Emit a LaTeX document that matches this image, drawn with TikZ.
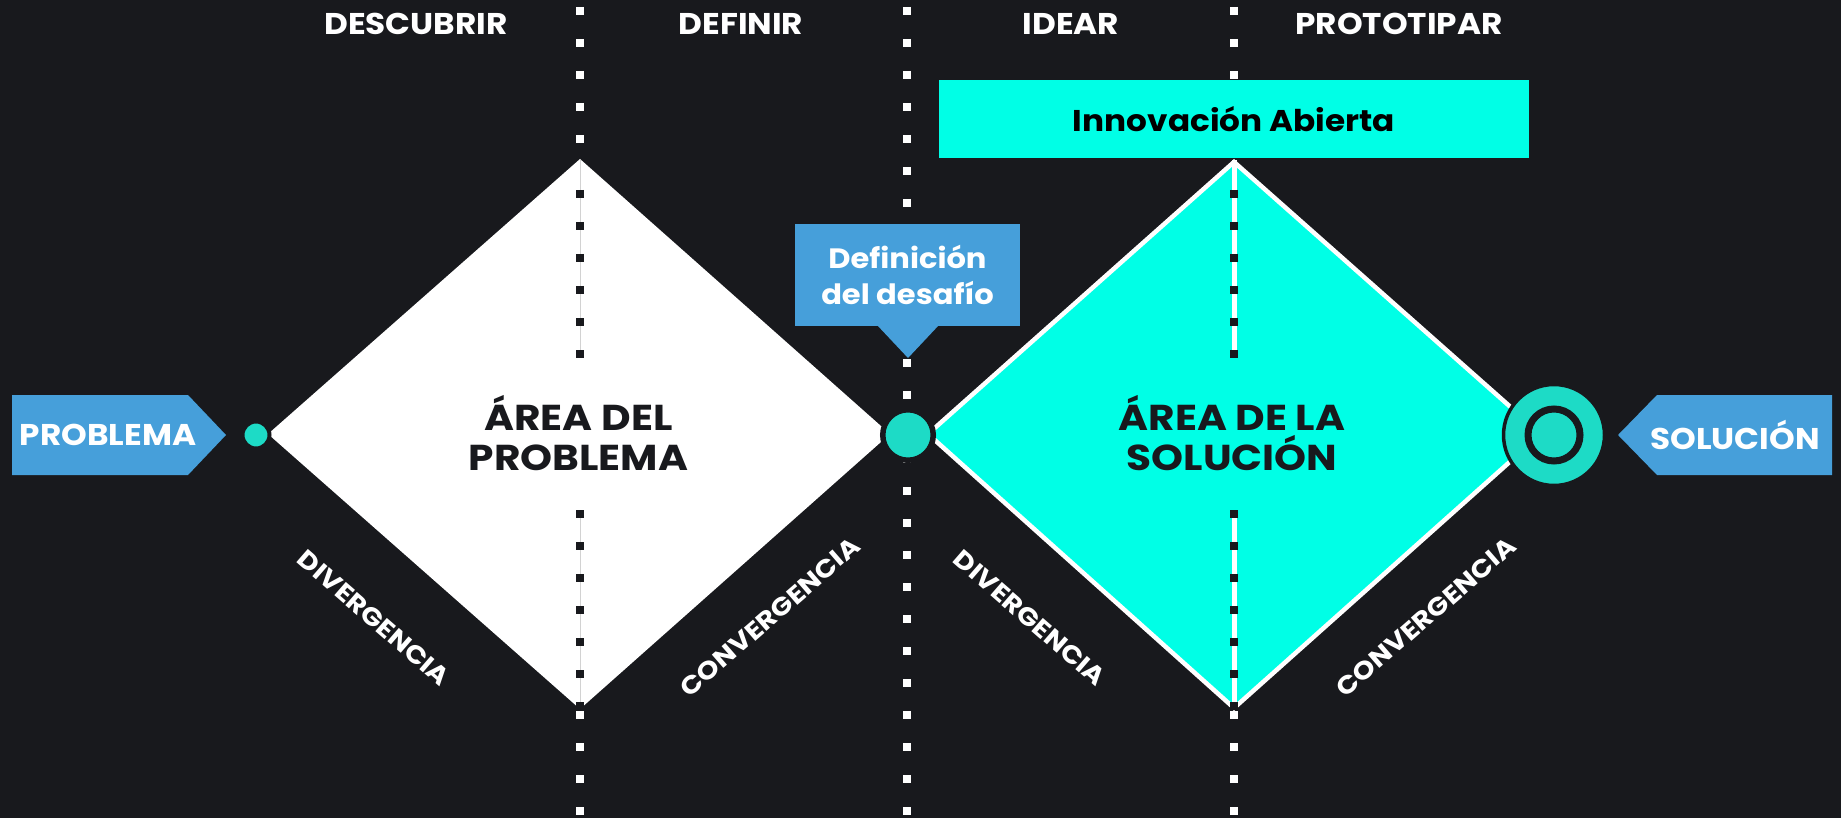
\documentclass[tikz,border=0pt]{standalone}
\usepackage{fontspec}
\setmainfont{Poppins}[FakeStretch=1.09]
\newfontfamily\ancha{Poppins}[FakeStretch=1.13]
\usepackage{tikz}
\usetikzlibrary{calc,shapes,arrows}
\definecolor{fondo}{HTML}{18191D}
\definecolor{cian}{HTML}{00FFE6}
\definecolor{turq}{HTML}{1DDBC6}
\definecolor{azul}{HTML}{469FDA}
\tikzset{
  fase/.style={text=white,font=\bfseries\fontsize{30}{30}\selectfont},
  area/.style={text=fondo,align=center,font=\ancha\bfseries\fontsize{36}{40}\selectfont},
  lado/.style={text=white,font=\ancha\bfseries\fontsize{25}{25}\selectfont},
  rotulo/.style={text=white,align=center,font=\bfseries\fontsize{30}{36}\selectfont},
  puntos/.style={white,line width=8pt,dash pattern=on 8pt off 24pt},
  puntosnegros/.style={fondo,line width=8pt,dash pattern=on 8pt off 24pt}
}

\begin{document}
\begin{tikzpicture}[x=1pt,y=-1pt]
\fill [fondo] (0,0) rectangle (1841,818);
\useasboundingbox (0,0) rectangle (1841,818);
\foreach \xx in {580,907,1234}
  \draw [puntos] (\xx,7)-- (\xx,818);
\fill [white] (268,434)-- (580,159)-- (890,434)-- (580,709)-- cycle;
\draw [white,line width=4.5pt,fill=cian] (928,434)-- (1234,162)-- (1541,434)-- (1234,708)-- cycle;
\draw [gray!35,line width=0.8pt] (580,160)-- (580,358);
\draw [gray!35,line width=0.8pt] (580,510)-- (580,708);
\draw [puntosnegros] (580,190)-- (580,358);
\draw [puntosnegros] (580,510)-- (580,710);
\draw [white,line width=5pt] (1234,160)-- (1234,358);
\draw [white,line width=5pt] (1234,510)-- (1234,709);
\draw [puntosnegros] (1234,190)-- (1234,358);
\draw [puntosnegros] (1234,510)-- (1234,710);
\fill [cian] (939,80) rectangle (1529,158);
\fill [azul] (795,224) rectangle (1020,326);
\fill [azul] (877,325)-- (908,358)-- (939,325)-- cycle;
\fill [azul] (12,395)-- (188,395)-- (226,435)-- (188,475)-- (12,475)-- cycle;
\fill [azul] (1832,395)-- (1657,395)-- (1618,435)-- (1657,475)-- (1832,475)-- cycle;
\draw [fondo,line width=4pt,fill=turq] (256,435) circle (13.5);
\draw [fondo,line width=5.5pt,fill=turq] (908,435) circle (25.25);
\draw [fondo,line width=3.5pt,fill=turq] (1554,435) circle (50.5);
\draw [fondo,line width=7pt] (1554,435) circle (26);
\node [fase] (descubrir) at (416,24) {DESCUBRIR};
\node [fase] (definir) at (741,24) {DEFINIR};
\node [fase] (idear) at (1071,24) {IDEAR};
\node [fase] (prototipar) at (1399,24) {PROTOTIPAR};
\node [text=black,font=\bfseries\fontsize{30}{30}\selectfont] (abierta) at (1234,119) {Innovación Abierta};
\node [rotulo,font=\bfseries\fontsize{28}{36}\selectfont] (desafio) at (907.5,275) {Definición\\del desafío};
\node [rotulo] (problema) at (108,435) {PROBLEMA};
\node [rotulo] (solucion) at (1735,435) {SOLUCIÓN};
\node [area] (areaproblema) at (578.5,433) {ÁREA DEL\\PROBLEMA};
\node [area] (areasolucion) at (1232,433) {ÁREA DE LA\\SOLUCIÓN};
\node [lado,rotate=-41] (div1) at (374,618) {DIVERGENCIA};
\node [lado,rotate=41] (conv1) at (770,617) {CONVERGENCIA};
\node [lado,rotate=-41] (div2) at (1030,618) {DIVERGENCIA};
\node [lado,rotate=41] (conv2) at (1426,617) {CONVERGENCIA};
\end{tikzpicture}
\end{document}
